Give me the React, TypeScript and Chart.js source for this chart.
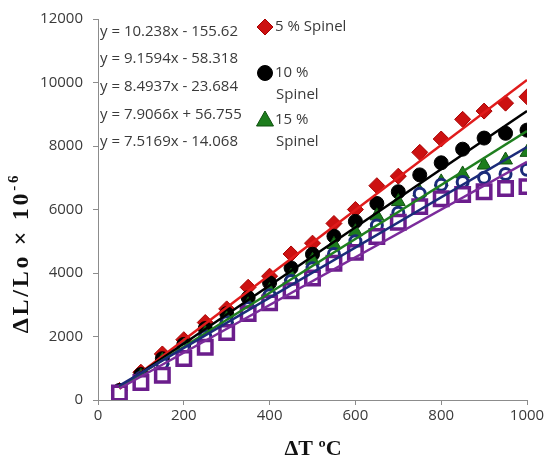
import React, { useEffect, useRef } from 'react';
import { Chart, registerables } from 'chart.js';

Chart.register(...registerables);

// ---------- data ----------
const TEMPS = [50, 100, 150, 200, 250, 300, 350, 400, 450, 500, 550, 600, 650, 700, 750, 800, 850, 900, 950, 1000];
const SPINEL_5 = [300, 875, 1450, 1900, 2440, 2870, 3550, 3900, 4600, 4940, 5560, 6000, 6750, 7050, 7800, 8220, 8840, 9100, 9350, 9550];
const SPINEL_10 = [300, 800, 1300, 1750, 2250, 2720, 3220, 3690, 4160, 4590, 5160, 5625, 6190, 6560, 7090, 7470, 7900, 8250, 8400, 8500];
const SPINEL_15 = [250, 750, 1250, 1700, 2100, 2550, 3000, 3450, 3900, 4400, 4900, 5300, 5800, 6250, 6550, 6870, 7120, 7400, 7560, 7800];
const SPINEL_20 = [250, 700, 1150, 1600, 2000, 2450, 2900, 3300, 3750, 4150, 4600, 5000, 5500, 5900, 6500, 6780, 6870, 7000, 7120, 7250];
const SPINEL_25 = [220, 550, 780, 1310, 1660, 2125, 2720, 3060, 3440, 3840, 4310, 4650, 5150, 5600, 6090, 6340, 6470, 6560, 6660, 6720];
const SERIES_NAMES = ['5 % Spinel', '10 % Spinel', '15 % Spinel', '20 % Spinel', '25 % Spinel'];
const SLOPES = [10.238, 9.1594, 8.4937, 7.9066, 7.5169];
const INTERCEPTS = [-155.62, -58.318, -23.684, 56.755, -14.068];
const X_TICKS = [0, 200, 400, 600, 800, 1000];
const Y_TICKS = [0, 2000, 4000, 6000, 8000, 10000, 12000];
const X_TITLE = 'ΔT ºC';
const Y_TITLE = 'ΔL/Lo × 10';
const Y_TITLE_SUP = '-6';
const LEGEND_LINES = [['5 % Spinel'], ['10 %', 'Spinel'], ['15 %', 'Spinel']];

// ---------- styles ----------
const STYLES = [
  { shape: 'rectRot', radius: 8, bg: '#cc1111', border: '#a80000', bw: 1, line: '#e01b1b' },
  { shape: 'circle', radius: 7, bg: '#000000', border: '#000000', bw: 1, line: '#000000' },
  { shape: 'triangle', radius: 8, bg: '#1d7d1d', border: '#0f500f', bw: 1, line: '#1f7f1f' },
  { shape: 'circle', radius: 5.5, bg: '#ffffff', border: '#1b2b7a', bw: 3, line: '#1b2b7a' },
  { shape: 'rect', radius: 9.5, bg: '#ffffff', border: '#6b1d8c', bw: 3.5, line: '#7b2b9b' },
];
const TEXT_FONT = '"Open Sans", sans-serif';
const TITLE_FONT = '"Liberation Serif", "Times New Roman", serif';
const TEXT_COLOR = '#3a3a3a';
const AXIS_COLOR = '#8c8c8c';

const fmtEq = (m: number, b: number) =>
  `y = ${m}x ${b < 0 ? '-' : '+'} ${Math.abs(b)}`;

const overlayPlugin = {
  id: 'overlay',
  afterDraw(chart: any) {
    const ctx = chart.ctx as CanvasRenderingContext2D;
    ctx.save();
    // equations
    ctx.font = `15px ${TEXT_FONT}`;
    ctx.fillStyle = TEXT_COLOR;
    ctx.textBaseline = 'middle';
    ctx.textAlign = 'left';
    const eqY = [32, 59, 87, 115, 142];
    SLOPES.forEach((m, i) => {
      ctx.fillText(fmtEq(m, INTERCEPTS[i]), 100, eqY[i]);
    });

    // legend
    const legY = [27, 73, 120];
    const mx = 265;
    LEGEND_LINES.forEach((lines, i) => {
      const s = STYLES[i];
      const y = legY[i];
      ctx.fillStyle = s.bg;
      ctx.strokeStyle = s.border;
      ctx.lineWidth = 1;
      ctx.beginPath();
      if (s.shape === 'rectRot') {
        ctx.moveTo(mx, y - 8);
        ctx.lineTo(mx + 8, y);
        ctx.lineTo(mx, y + 8);
        ctx.lineTo(mx - 8, y);
        ctx.closePath();
      } else if (s.shape === 'circle') {
        ctx.arc(mx, y, 7.5, 0, Math.PI * 2);
      } else if (s.shape === 'triangle') {
        ctx.moveTo(mx, y - 9);
        ctx.lineTo(mx + 8.5, y + 6);
        ctx.lineTo(mx - 8.5, y + 6);
        ctx.closePath();
      }
      ctx.fill();
      ctx.stroke();
      ctx.fillStyle = TEXT_COLOR;
      ctx.font = `15px ${TEXT_FONT}`;
      lines.forEach((t, j) => {
        ctx.fillText(t, j === 0 ? mx + 10 : mx + 11, y + j * 22);
      });
    });

    // x title
    ctx.fillStyle = '#111111';
    ctx.font = `bold 22px ${TITLE_FONT}`;
    ctx.textAlign = 'center';
    ctx.textBaseline = 'middle';
    ctx.fillText(X_TITLE, 313, 449);

    // y title (rotated)
    ctx.translate(22, 253);
    ctx.rotate(-Math.PI / 2);
    ctx.textAlign = 'left';
    const mainFont = `bold 24px ${TITLE_FONT}`;
    const supFont = `bold 15px ${TITLE_FONT}`;
    const target = 160;
    ctx.font = mainFont;
    const natMain = ctx.measureText(Y_TITLE).width;
    ctx.font = supFont;
    const natSup = ctx.measureText(Y_TITLE_SUP).width;
    const n = Y_TITLE.length + Y_TITLE_SUP.length;
    const sp = Math.max(0, (target - natMain - natSup) / n);
    (ctx as any).letterSpacing = `${sp.toFixed(1)}px`;
    ctx.font = mainFont;
    const mainW = ctx.measureText(Y_TITLE).width;
    ctx.font = supFont;
    const supW = ctx.measureText(Y_TITLE_SUP).width;
    const start = -(mainW + supW) / 2;
    ctx.font = mainFont;
    ctx.fillText(Y_TITLE, start, 0);
    ctx.font = supFont;
    ctx.fillText(Y_TITLE_SUP, start + mainW, -8);
    (ctx as any).letterSpacing = '0px';
    ctx.restore();
  },
};

export default function App() {
  const ref = useRef<HTMLCanvasElement | null>(null);
  useEffect(() => {
    if (!ref.current) return;
    const seriesValues = [SPINEL_5, SPINEL_10, SPINEL_15, SPINEL_20, SPINEL_25];
    const pointSets = seriesValues.map((vals, i) => {
      const s = STYLES[i];
      return {
        label: SERIES_NAMES[i],
        data: TEMPS.map((t, k) => ({ x: t, y: vals[k] })),
        showLine: false,
        pointStyle: s.shape,
        pointRadius: s.radius,
        pointBackgroundColor: s.bg,
        pointBorderColor: s.border,
        pointBorderWidth: s.bw,
        backgroundColor: s.bg,
        borderColor: s.border,
        order: 10 - i,
      };
    });
    const lineSets = SLOPES.map((m, i) => {
      const x0 = TEMPS[0];
      const x1 = TEMPS[TEMPS.length - 1];
      return {
        label: 'Linear ' + SERIES_NAMES[i],
        data: [
          { x: x0, y: m * x0 + INTERCEPTS[i] },
          { x: x1, y: m * x1 + INTERCEPTS[i] },
        ],
        showLine: true,
        pointRadius: 0,
        borderColor: STYLES[i].line,
        borderWidth: 2.5,
        fill: false,
        order: 5 - i,
      };
    });
    const chart = new Chart(ref.current, {
      type: 'scatter',
      data: { datasets: [...pointSets, ...lineSets] as any },
      plugins: [overlayPlugin],
      options: {
        animation: false,
        responsive: false,
        layout: { padding: { left: 0, right: 24, top: 16, bottom: 0 } },
        plugins: { legend: { display: false }, tooltip: { enabled: false } },
        scales: {
          x: {
            type: 'linear',
            min: X_TICKS[0],
            max: X_TICKS[X_TICKS.length - 1],
            afterBuildTicks: (scale: any) => {
              scale.ticks = X_TICKS.map((v) => ({ value: v }));
            },
            afterFit: (scale: any) => {
              scale.height = 62;
            },
            grid: { display: true, drawOnChartArea: false, drawTicks: true, tickLength: 5, color: AXIS_COLOR, lineWidth: 1 },
            border: { display: true, color: AXIS_COLOR, width: 1 },
            ticks: {
              color: TEXT_COLOR,
              font: { family: TEXT_FONT, size: 15 },
              padding: 2,
              maxRotation: 0,
              callback: (v: any) => String(v),
            },
          },
          y: {
            type: 'linear',
            min: Y_TICKS[0],
            max: Y_TICKS[Y_TICKS.length - 1],
            afterBuildTicks: (scale: any) => {
              scale.ticks = Y_TICKS.map((v) => ({ value: v }));
            },
            afterFit: (scale: any) => {
              scale.width = 98;
            },
            grid: { display: true, drawOnChartArea: false, drawTicks: true, tickLength: 5, color: AXIS_COLOR, lineWidth: 1 },
            border: { display: true, color: AXIS_COLOR, width: 1 },
            ticks: {
              color: TEXT_COLOR,
              font: { family: TEXT_FONT, size: 15 },
              padding: 10,
              callback: (v: any) => String(v),
            },
          },
        },
      } as any,
    });
    return () => chart.destroy();
  }, []);
  return (
    <div style={{ position: 'fixed', left: 0, top: 0, width: 551, height: 462, background: '#fff' }}>
      <canvas ref={ref} width={551} height={462} style={{ display: 'block' }} />
    </div>
  );
}
